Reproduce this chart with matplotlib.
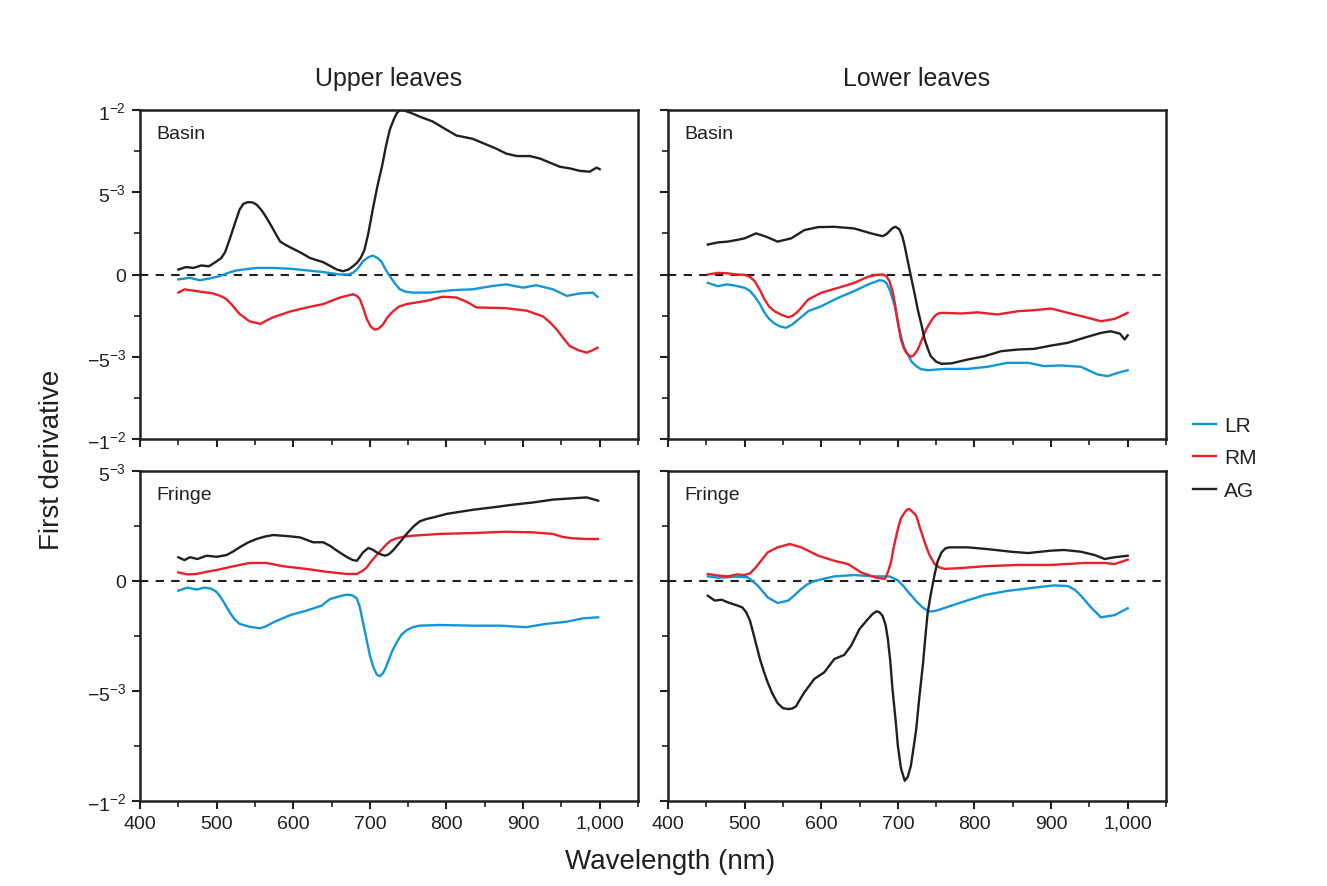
import matplotlib
matplotlib.use("Agg")
import matplotlib.pyplot as plt
from matplotlib.ticker import MultipleLocator, FixedLocator, FixedFormatter
import numpy as np

plt.rcParams['font.family'] = ['Liberation Sans', 'DejaVu Sans']
plt.rcParams['mathtext.default'] = 'regular'

# ---------------- data (values in units of 1e-3) ----------------
# Upper leaves, Basin
ub_ag_wl = [450, 460, 470, 480, 490, 500, 506, 511, 516, 521, 526, 530, 535, 541, 547, 552, 557, 561, 567, 572,
            578, 583, 590, 596, 609, 622, 639, 657, 665, 672, 678, 683, 688, 693, 698, 704, 710, 716, 721, 726,
            731, 735, 739, 743, 749, 755, 765, 782, 800, 813, 834, 847, 865, 878, 892, 909, 922, 935, 948, 961,
            974, 987, 996, 1000]
ub_ag = [0.3, 0.45, 0.4, 0.55, 0.5, 0.8, 1.0, 1.35, 2.0, 2.7, 3.4, 3.95, 4.3, 4.4, 4.38, 4.25, 4.0, 3.75, 3.3,
         2.9, 2.4, 2.0, 1.8, 1.65, 1.35, 1.0, 0.75, 0.3, 0.2, 0.3, 0.5, 0.7, 1.0, 1.5, 2.5, 4.0, 5.4, 6.6, 7.8,
         8.8, 9.4, 9.8, 9.98, 10.0, 9.9, 9.8, 9.6, 9.3, 8.8, 8.45, 8.25, 8.0, 7.65, 7.35, 7.2, 7.2, 7.05, 6.8,
         6.55, 6.45, 6.3, 6.25, 6.5, 6.4]
ub_lr_wl = [450, 465, 478, 490, 504, 515, 526, 552, 574, 596, 618, 639, 661, 672, 678, 684, 691, 698, 704, 710,
            715, 720, 726, 732, 739, 747, 756, 778, 808, 834, 860, 878, 900, 917, 939, 957, 974, 991, 997]
ub_lr = [-0.3, -0.2, -0.35, -0.25, -0.1, 0.1, 0.25, 0.4, 0.4, 0.35, 0.25, 0.15, 0.0, 0.0, 0.1, 0.35, 0.8, 1.05,
         1.15, 1.0, 0.8, 0.35, -0.1, -0.5, -0.9, -1.05, -1.1, -1.1, -0.95, -0.9, -0.7, -0.6, -0.8, -0.65, -0.9,
         -1.3, -1.15, -1.1, -1.35]
ub_rm_wl = [450, 458, 465, 480, 495, 505, 513, 521, 530, 543, 557, 565, 574, 596, 618, 639, 661, 678, 683, 687,
            691, 696, 701, 706, 711, 717, 723, 730, 738, 748, 774, 795, 813, 826, 839, 878, 905, 926, 935, 944,
            953, 961, 972, 983, 991, 997]
ub_rm = [-1.1, -0.9, -0.95, -1.05, -1.15, -1.3, -1.5, -1.9, -2.4, -2.85, -3.0, -2.8, -2.6, -2.25, -2.0, -1.8,
         -1.4, -1.2, -1.3, -1.5, -2.0, -2.7, -3.15, -3.35, -3.3, -3.05, -2.6, -2.25, -1.95, -1.8, -1.6, -1.35,
         -1.4, -1.65, -2.0, -2.05, -2.2, -2.55, -2.9, -3.35, -3.9, -4.35, -4.6, -4.75, -4.6, -4.45]

# Lower leaves, Basin
lb_ag_wl = [452, 465, 478, 490, 500, 515, 528, 543, 561, 578, 596, 617, 643, 665, 680, 685, 689, 693, 697, 702,
            706, 709, 713, 717, 722, 726, 731, 735, 739, 743, 750, 757, 770, 791, 813, 835, 857, 878, 900, 922,
            943, 965, 978, 990, 996, 1000]
lb_ag = [1.82, 1.95, 2.0, 2.1, 2.2, 2.5, 2.3, 2.0, 2.2, 2.7, 2.88, 2.9, 2.8, 2.5, 2.33, 2.45, 2.63, 2.82, 2.9,
         2.74, 2.3, 1.72, 0.8, -0.1, -1.2, -2.13, -3.1, -3.95, -4.5, -4.97, -5.3, -5.43, -5.4, -5.17, -4.97,
         -4.66, -4.56, -4.52, -4.32, -4.15, -3.85, -3.55, -3.45, -3.6, -3.95, -3.7]
lb_rm_wl = [452, 465, 478, 490, 500, 507, 513, 520, 526, 532, 539, 548, 557, 563, 570, 577, 583, 600, 622, 643,
            661, 672, 680, 685, 689, 693, 696, 700, 704, 708, 711, 717, 721, 726, 731, 737, 743, 748, 752, 757,
            783, 804, 830, 857, 878, 900, 922, 943, 965, 983, 1000]
lb_rm = [0.0, 0.1, 0.07, 0.0, -0.02, -0.15, -0.4, -0.95, -1.52, -1.95, -2.23, -2.45, -2.6, -2.5, -2.23, -1.85,
         -1.52, -1.11, -0.81, -0.51, -0.14, -0.02, 0.0, -0.1, -0.4, -1.0, -1.72, -2.9, -3.95, -4.5, -4.76, -5.0,
         -4.9, -4.56, -4.0, -3.34, -2.85, -2.53, -2.38, -2.33, -2.37, -2.3, -2.43, -2.23, -2.17, -2.07, -2.33,
         -2.57, -2.84, -2.7, -2.33]
lb_lr_wl = [452, 465, 477, 487, 500, 507, 513, 520, 526, 532, 539, 546, 554, 562, 570, 583, 600, 622, 643, 661,
            676, 681, 685, 690, 696, 700, 704, 708, 713, 718, 724, 730, 739, 761, 791, 817, 843, 870, 891, 913,
            939, 961, 974, 987, 1000]
lb_lr = [-0.51, -0.71, -0.6, -0.67, -0.81, -1.0, -1.32, -1.8, -2.33, -2.7, -2.98, -3.15, -3.24, -3.05, -2.74,
         -2.23, -1.93, -1.42, -1.01, -0.61, -0.35, -0.38, -0.51, -1.0, -1.93, -2.9, -3.75, -4.4, -4.86, -5.3,
         -5.57, -5.75, -5.82, -5.74, -5.74, -5.61, -5.37, -5.37, -5.57, -5.53, -5.61, -6.08, -6.18, -5.98, -5.82]

# Upper leaves, Fringe
uf_ag_wl = [450, 458, 465, 475, 487, 500, 513, 522, 530, 541, 552, 563, 574, 596, 609, 626, 639, 648, 657, 665,
            672, 678, 683, 687, 691, 698, 704, 709, 715, 720, 725, 730, 739, 748, 757, 765, 774, 783, 800, 835,
            861, 887, 913, 939, 965, 983, 998]
uf_ag = [1.08, 0.95, 1.08, 1.0, 1.15, 1.1, 1.18, 1.35, 1.53, 1.75, 1.91, 2.02, 2.09, 2.03, 1.98, 1.76, 1.76,
         1.6, 1.38, 1.2, 1.05, 0.95, 0.92, 1.1, 1.3, 1.5, 1.42, 1.3, 1.2, 1.15, 1.22, 1.38, 1.75, 2.14, 2.48,
         2.71, 2.82, 2.89, 3.05, 3.24, 3.35, 3.47, 3.57, 3.7, 3.76, 3.8, 3.65]
uf_rm_wl = [450, 462, 474, 487, 500, 522, 543, 565, 587, 617, 643, 670, 683, 690, 696, 702, 709, 716, 722, 728,
            735, 745, 757, 791, 835, 878, 913, 939, 952, 965, 983, 998]
uf_rm = [0.39, 0.3, 0.32, 0.42, 0.5, 0.67, 0.82, 0.82, 0.67, 0.55, 0.42, 0.32, 0.32, 0.45, 0.62, 0.9, 1.18, 1.45,
         1.68, 1.85, 1.94, 2.02, 2.06, 2.14, 2.18, 2.24, 2.21, 2.14, 2.0, 1.94, 1.91, 1.91]
uf_lr_wl = [450, 462, 474, 484, 493, 500, 504, 510, 517, 523, 530, 543, 557, 565, 574, 596, 617, 637, 648, 660,
            670, 677, 683, 687, 691, 696, 700, 705, 709, 713, 717, 720, 724, 729, 735, 741, 748, 756, 765, 791,
            835, 870, 904, 930, 957, 978, 998]
uf_lr = [-0.44, -0.3, -0.39, -0.3, -0.35, -0.5, -0.67, -1.0, -1.42, -1.72, -1.95, -2.08, -2.15, -2.05, -1.88,
         -1.55, -1.35, -1.12, -0.82, -0.7, -0.62, -0.65, -0.79, -1.2, -1.88, -2.7, -3.39, -3.95, -4.25, -4.33,
         -4.2, -4.0, -3.65, -3.2, -2.79, -2.45, -2.24, -2.1, -2.03, -2.0, -2.03, -2.03, -2.1, -1.95, -1.85, -1.7,
         -1.65]

# Lower leaves, Fringe
lf_ag_wl = [452, 461, 470, 478, 491, 497, 502, 507, 511, 516, 520, 525, 530, 536, 543, 550, 557, 562, 567, 572,
            578, 591, 604, 617, 630, 639, 650, 661, 667, 672, 676, 680, 684, 687, 690, 693, 697, 700, 704, 709,
            713, 717, 720, 724, 728, 733, 736, 739, 743, 748, 752, 757, 762, 767, 791, 817, 848, 870, 900, 917,
            939, 957, 970, 983, 1000]
lf_ag = [-0.67, -0.89, -0.85, -0.97, -1.12, -1.2, -1.42, -1.8, -2.33, -3.0, -3.55, -4.1, -4.6, -5.1, -5.55,
         -5.78, -5.82, -5.8, -5.7, -5.4, -5.06, -4.45, -4.15, -3.55, -3.36, -2.94, -2.18, -1.73, -1.5, -1.38,
         -1.42, -1.58, -2.0, -2.64, -3.6, -4.9, -6.3, -7.48, -8.5, -9.08, -8.9, -8.4, -7.7, -6.73, -5.3, -3.7,
         -2.5, -1.42, -0.6, 0.3, 0.9, 1.3, 1.48, 1.53, 1.53, 1.45, 1.33, 1.27, 1.38, 1.41, 1.33, 1.18, 1.0, 1.08,
         1.15]
lf_rm_wl = [452, 465, 478, 490, 500, 507, 513, 521, 530, 543, 559, 574, 596, 617, 635, 652, 670, 683, 687, 691,
            695, 700, 704, 709, 712, 715, 719, 724, 729, 735, 741, 748, 754, 761, 783, 813, 857, 900, 943, 970, 983,
            1000]
lf_rm = [0.32, 0.25, 0.21, 0.3, 0.27, 0.35, 0.55, 0.9, 1.3, 1.53, 1.68, 1.53, 1.15, 0.92, 0.77, 0.39, 0.17, 0.09,
         0.4, 0.85, 1.6, 2.36, 2.85, 3.12, 3.25, 3.27, 3.15, 2.97, 2.4, 1.76, 1.2, 0.77, 0.62, 0.55, 0.59, 0.67,
         0.73, 0.73, 0.82, 0.82, 0.77, 0.97]
lf_lr_wl = [452, 465, 478, 490, 504, 510, 517, 523, 530, 543, 557, 565, 574, 582, 591, 617, 643, 670, 689, 700,
            707, 713, 720, 726, 733, 741, 749, 757, 783, 813, 843, 878, 904, 922, 931, 939, 946, 952, 965, 983,
            1000]
lf_lr = [0.21, 0.15, 0.17, 0.2, 0.17, 0.0, -0.2, -0.45, -0.74, -1.0, -0.89, -0.65, -0.36, -0.15, 0.0, 0.21,
         0.27, 0.21, 0.21, 0.03, -0.22, -0.48, -0.75, -1.0, -1.22, -1.39, -1.36, -1.27, -0.97, -0.64, -0.45, -0.3,
         -0.2, -0.23, -0.4, -0.67, -0.95, -1.2, -1.65, -1.55, -1.24]

col_titles = ["Upper leaves", "Lower leaves"]
row_labels = ["Basin", "Fringe"]
series_names = ["LR", "RM", "AG"]
series_colors = {"LR": "#1296d8", "RM": "#e8202a", "AG": "#231f20"}

panels = {
    (0, 0): {"LR": (ub_lr_wl, ub_lr), "RM": (ub_rm_wl, ub_rm), "AG": (ub_ag_wl, ub_ag)},
    (0, 1): {"LR": (lb_lr_wl, lb_lr), "RM": (lb_rm_wl, lb_rm), "AG": (lb_ag_wl, lb_ag)},
    (1, 0): {"LR": (uf_lr_wl, uf_lr), "RM": (uf_rm_wl, uf_rm), "AG": (uf_ag_wl, uf_ag)},
    (1, 1): {"LR": (lf_lr_wl, lf_lr), "RM": (lf_rm_wl, lf_rm), "AG": (lf_ag_wl, lf_ag)},
}

top_ticks = [-0.01, -0.005, 0, 0.005, 0.01]
top_labels = ["\u22121$^{\u22122}$", "\u22125$^{\u22123}$", "0", "5$^{\u22123}$", "1$^{\u22122}$"]
bot_ticks = [-0.01, -0.005, 0, 0.005]
bot_labels = ["\u22121$^{\u22122}$", "\u22125$^{\u22123}$", "0", "5$^{\u22123}$"]
x_ticks = [400, 500, 600, 700, 800, 900, 1000]
x_labels = ["400", "500", "600", "700", "800", "900", "1,000"]

# ---------------- figure ----------------
fig = plt.figure(figsize=(13.27, 8.87), dpi=100)
W, H = 1327, 887
lefts = [140, 668]
tops = [111, 472]
bottoms = [440, 802]
axw = 498

tick_color = "#231f20"
for (r, c), data in panels.items():
    ax = fig.add_axes([lefts[c] / W, 1 - bottoms[r] / H, axw / W, (bottoms[r] - tops[r]) / H])
    ax.axhline(0, color=tick_color, lw=1.5, ls=(0, (4, 3.5)), zorder=1)
    for name in series_names:
        wl, v = data[name]
        ax.plot(wl, np.array(v) * 1e-3, color=series_colors[name], lw=1.7, zorder=2,
                solid_joinstyle='round', label=name if (r, c) == (0, 0) else None)
    ax.set_xlim(400, 1050)
    if r == 0:
        ax.set_ylim(-0.01, 0.01)
        ticks, labels = top_ticks, top_labels
    else:
        ax.set_ylim(-0.01, 0.005)
        ticks, labels = bot_ticks, bot_labels
    ax.yaxis.set_major_locator(FixedLocator(ticks))
    ax.yaxis.set_minor_locator(MultipleLocator(0.0025))
    ax.xaxis.set_major_locator(FixedLocator(x_ticks))
    ax.xaxis.set_minor_locator(MultipleLocator(50))
    if c == 0:
        ax.yaxis.set_major_formatter(FixedFormatter(labels))
    else:
        ax.set_yticklabels([])
    if r == 1:
        ax.xaxis.set_major_formatter(FixedFormatter(x_labels))
    else:
        ax.set_xticklabels([])
    ax.tick_params(which='major', direction='out', length=6, width=1.5, color=tick_color,
                   labelsize=14, labelcolor=tick_color, pad=4)
    ax.tick_params(which='minor', direction='out', length=4, width=1.2, color=tick_color)
    for s in ax.spines.values():
        s.set_linewidth(1.8)
        s.set_color(tick_color)
    ax.text(0.032, 0.93, row_labels[r], transform=ax.transAxes, fontsize=14,
            color=tick_color, ha='left', va='center')
    if r == 0:
        ax.set_title(col_titles[c], fontsize=18, color=tick_color, pad=18)
    if (r, c) == (0, 0):
        handles, hl = ax.get_legend_handles_labels()

fig.legend(handles, hl, loc='center left', bbox_to_anchor=(1193 / W, 1 - 459 / H), frameon=False,
           fontsize=15, handlelength=1.1, handletextpad=0.4, labelspacing=0.65, labelcolor=tick_color,
           borderaxespad=0, borderpad=0)
fig.text(52 / W, 1 - 460 / H, "First derivative", rotation=90, fontsize=20, color=tick_color,
         ha='center', va='center')
fig.text(670 / W, 1 - 862 / H, "Wavelength (nm)", fontsize=20, color=tick_color, ha='center', va='center')

fig.savefig("out.png", dpi=100)
